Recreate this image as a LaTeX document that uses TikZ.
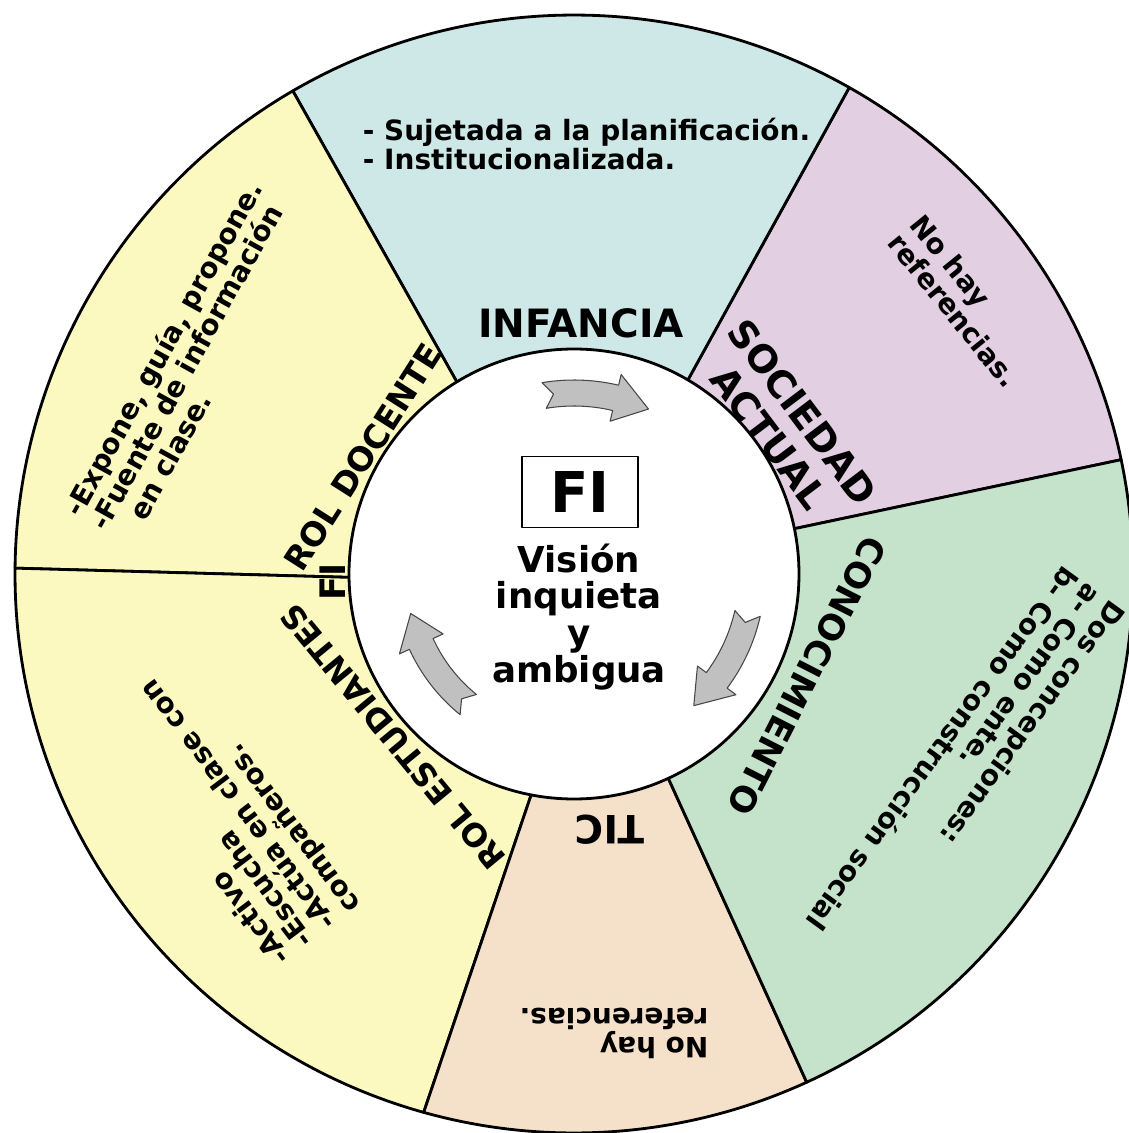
\documentclass[tikz,border=0pt]{standalone}
\usepackage{fontspec}
\setmainfont{DejaVu Sans}
\definecolor{docyellow}{RGB}{251,249,192}
\definecolor{infblue}{RGB}{206,231,231}
\definecolor{socpurple}{RGB}{226,207,226}
\definecolor{congreen}{RGB}{197,226,202}
\definecolor{ticpeach}{RGB}{245,225,201}
\definecolor{arrowgray}{RGB}{192,192,192}
\definecolor{arrowline}{RGB}{70,70,70}
\begin{document}
\begin{tikzpicture}[x=0.02cm, y=0.02cm, line join=round,
  ring/.style={draw=black, line width=1.6pt},
  catlabel/.style={inner sep=0pt, font=\bfseries\fontsize{#1}{23.9pt}\selectfont},
  bodytext/.style={inner sep=0pt, align=left, font=\bfseries\fontsize{15.9pt}{16.6pt}\selectfont},
  arrowbody/.style={fill=arrowgray, draw=arrowline, line width=0.6pt}]
  % --- radii (1 unit = 1 px of the 1129x1133 canvas)
  \def\R{559}    % outer ring
  \def\r{225}    % white disc
  \def\rs{212}   % sector corners, hidden under the disc
  \def\w{13}     % half width of arrow shaft
  \def\hw{24}    % half width of arrow head

  \useasboundingbox (-574,-559) rectangle (555,574);

  %---------------------------------------
  % sectors: inner/outer angle of first edge, inner/outer angle of second edge
  \foreach \ai/\ao/\bi/\bo/\col in {11.6/11.8/59.5/60.5/socpurple,
      59.5/60.5/121.5/120.2/infblue, 121.5/120.2/181/179.4/docyellow,
      181/179.4/259.5/254.4/docyellow, -100.5/-105.6/-65.2/-65.4/ticpeach,
      -65.2/-65.4/11.6/11.8/congreen}
    \filldraw[fill=\col, ring] (\ai:\rs) -- (\ao:\R)
      arc[start angle=\ao, end angle=\bo, radius=\R] -- (\bi:\rs) -- cycle;

  % white disc in the middle
  \filldraw[fill=white, ring] (0,0) circle[radius=\r];

  %---------------------------------------
  % curved arrows (tail angle / tip angle / radius)
  \foreach \a/\b/\rr in {99.5/65.7/181, -12.8/-47.7/178, 231/193.6/168} {
    \pgfmathsetmacro{\h}{\b+11}
    \pgfmathsetmacro{\n}{\a-3}
    \pgfmathsetmacro{\ro}{\rr+\w}
    \pgfmathsetmacro{\ri}{\rr-\w}
    \pgfmathsetmacro{\ho}{\rr+\hw}
    \pgfmathsetmacro{\hi}{\rr-\hw}
    \filldraw[arrowbody] (\a:\ro) arc[start angle=\a, end angle=\h, radius=\ro]
      -- (\h:\ho) -- (\b:\rr) -- (\h:\hi) -- (\h:\ri)
      arc[start angle=\h, end angle=\a, radius=\ri] -- (\n:\rr) -- cycle;
  }

  %---------------------------------------
  % centre
  \node[draw, line width=0.8pt, minimum width=2.32cm, minimum height=1.42cm,
    inner sep=0pt, font=\bfseries\fontsize{32pt}{32pt}\selectfont] (fibox) at (6,82) {FI};
  \node[align=center, inner sep=0pt, font=\bfseries\fontsize{20.3pt}{21pt}\selectfont]
    (vision) at (5,-43) {Visión\\inquieta\\y\\ambigua};

  %---------------------------------------
  % sector titles
  \node[catlabel=22.2pt] (infancia) at (7,251) {INFANCIA};
  \node[catlabel=21.6pt, align=center, rotate=-53] (sociedad) at (212,149) {SOCIEDAD\\ACTUAL};
  \node[catlabel=19.9pt, rotate=-117] (conoc) at (233,-102) {CONOCIMIENTO};
  \node[catlabel=22.2pt, rotate=180] (tic) at (36,-256) {TIC};
  \node[catlabel=18.2pt, rotate=129.5] (rolest) at (-181,-163) {ROL ESTUDIANTES};
  \node[catlabel=18.8pt, rotate=57.5] (roldoc) at (-211,117) {ROL DOCENTE};
  \node[catlabel=20pt, rotate=90] (fiside) at (-241,-8) {FI};

  %---------------------------------------
  % sector texts
  \node[bodytext] (infbody) at (12.5,430)
    {- Sujetada a la planificación.\\- Institucionalizada.};
  \node[bodytext, rotate=-51] (socbody) at (391,273) {No hay\\referencias.};
  \node[bodytext, rotate=-126] (conbody) at (392,-192)
    {Dos concepciones:\\a- Como ente.\\b- Como construcción social};
  \node[bodytext, rotate=180] (ticbody) at (40,-459) {No hay\\referencias.};
  \node[bodytext, rotate=127] (estbody) at (-346,-239)
    {-Activo\\-Escucha\\-Actúa en clase con\\compañeros.};
  \node[bodytext, rotate=61] (docbody) at (-386,212)
    {-Expone, guía, propone.\\-Fuente de información\\\hspace{1em}en clase.};
\end{tikzpicture}
\end{document}
